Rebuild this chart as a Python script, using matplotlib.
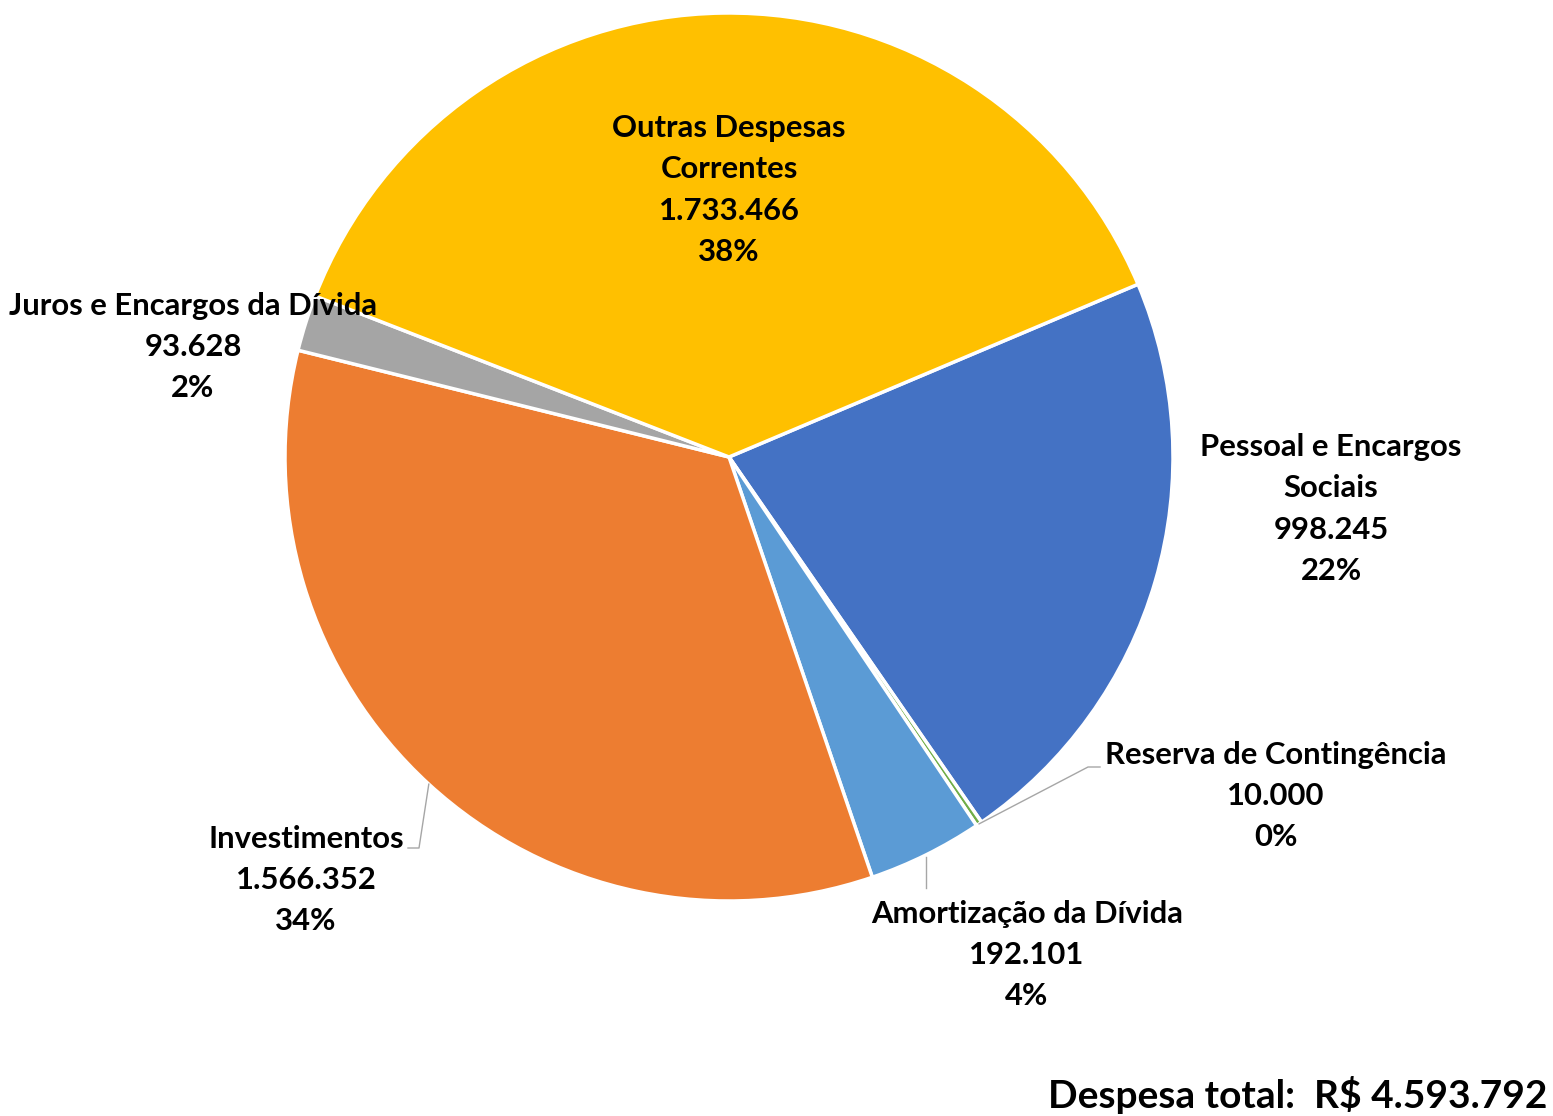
import numpy as np
import matplotlib
matplotlib.use("Agg")
from matplotlib import pyplot as plt

# data
categories = ["Pessoal e Encargos\nSociais", "Reserva de Contingência", "Amortização da Dívida",
              "Investimentos", "Juros e Encargos da Dívida", "Outras Despesas\nCorrentes"]
values = [998245, 10000, 192101, 1566352, 93628, 1733466]
value_labels = ["998.245", "10.000", "192.101", "1.566.352", "93.628", "1.733.466"]
colors = ["#4472C4", "#70AD47", "#5B9BD5", "#ED7D31", "#A5A5A5", "#FFC000"]
total_label = "Despesa total:  R$ 4.593.792"

W, H = 1553, 1116
cx, cy, R = 729, H - 457, 444

plt.rcParams['font.family'] = ['Lato', 'DejaVu Sans']

fig = plt.figure(figsize=(W / 100, H / 100), dpi=100)
ax = fig.add_axes([0, 0, 1, 1])

wedges, _ = ax.pie(values, colors=colors, startangle=22.9, counterclock=False,
                   center=(cx, cy), radius=R,
                   wedgeprops=dict(edgecolor="white", linewidth=2.5))
ax.set_xlim(0, W)
ax.set_ylim(0, H)
ax.set_aspect("equal")
ax.axis("off")

total = sum(values)
pcts = [f"{round(v / total * 100):.0f}%" for v in values]

# label centres (pixels from top-left)
label_pos = [(1331, 509), (1276, 796), (1027, 955), (306, 880), (193, 347), (729, 190)]
fs = 22.3
for i, (x, y) in enumerate(label_pos):
    txt = f"{categories[i]}\n{value_labels[i]}\n{pcts[i]}"
    ax.text(x, H - y, txt, ha="center", va="center", fontsize=fs, fontweight="bold",
            linespacing=1.57, color="black")

# leader lines from the wedge rim
def rim_point(w):
    a = np.deg2rad((w.theta1 + w.theta2) / 2)
    return cx + R * np.cos(a), cy + R * np.sin(a)

x0, y0 = rim_point(wedges[1])
ax.plot([x0, 1088, 1100], [y0, H - 767, H - 767], color="#A6A6A6", lw=1)
x0, y0 = rim_point(wedges[2])
ax.plot([x0, x0], [y0 - 2, H - 888], color="#A6A6A6", lw=1)
x0, y0 = rim_point(wedges[3])
ax.plot([x0, 419, 408], [y0, H - 848, H - 848], color="#A6A6A6", lw=1)

ax.text(1547, H - 1095, total_label, ha="right", va="center", fontsize=28,
        fontweight="bold", color="black")

fig.savefig("out.png", dpi=100)
